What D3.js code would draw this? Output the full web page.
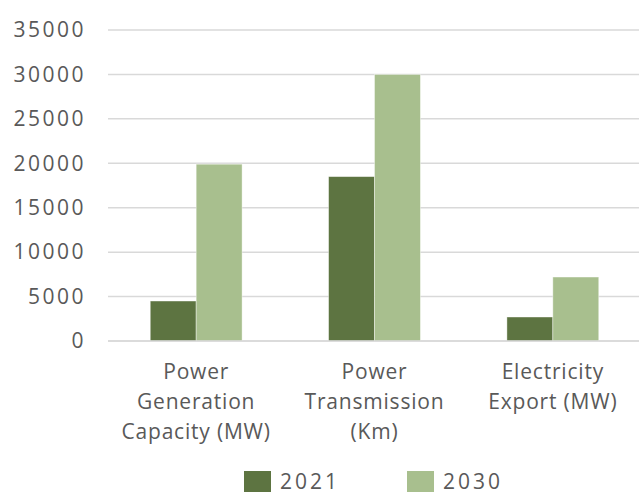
<!DOCTYPE html>
<html>
<head>
<meta charset="utf-8">
<script src="https://cdn.jsdelivr.net/npm/d3@7"></script>
<style>
  body { margin: 0; background: #fff; }
  text { font-family: "Open Sans", sans-serif; fill: #595959; }
</style>
</head>
<body>
<div class="chart"></div>
<script>
// chart data
const categories = [
  ["Power", "Generation", "Capacity (MW)"],
  ["Power", "Transmission", "(Km)"],
  ["Electricity", "Export (MW)"]
]
const seriesNames = ["2021", "2030"]
const values2021 = [4500, 18500, 2700]
const values2030 = [19900, 30000, 7200]
const yTicks = [0, 5000, 10000, 15000, 20000, 25000, 30000, 35000]
const colors = ["#5d7441", "#a8bf8e"]

const width = 639, height = 494
const plot = {left: 107, right: 642, top: 30, bottom: 341}

const svg = d3.select(".chart")
  .append("svg")
    .attr("width", width)
    .attr("height", height)

const x = d3.scaleBand()
  .domain(d3.range(categories.length))
  .range([plot.left, plot.right])
  .paddingInner(0.485)
  .paddingOuter(0.2425)

const xSub = d3.scaleBand()
  .domain(seriesNames)
  .range([0, x.bandwidth()])

const y = d3.scaleLinear()
  .domain([0, 35000])
  .range([plot.bottom, plot.top])

// gridlines
svg.append("g")
  .selectAll("line")
  .data(yTicks)
  .join("line")
    .attr("x1", plot.left + 1)
    .attr("x2", width)
    .attr("y1", d => y(d))
    .attr("y2", d => y(d))
    .attr("stroke", "#d9d9d9")
    .attr("stroke-width", 1.5)

// y tick labels
const yAxis = svg.append("g")
  .attr("transform", `translate(86,0)`)
  .call(d3.axisLeft(y).tickValues(yTicks).tickSize(0).tickPadding(0).tickFormat(d => d))
yAxis.select(".domain").remove()
yAxis.selectAll("text")
  .attr("font-size", 21)
  .attr("font-family", "Open Sans, sans-serif")
  .attr("letter-spacing", "2.5px")
  .attr("fill", "#595959")

// bars
const series = [values2021, values2030]
const groups = svg.append("g")
  .selectAll("g")
  .data(seriesNames)
  .join("g")
    .attr("fill", (d, i) => colors[i])

groups.selectAll("rect")
  .data((s, i) => series[i].map((v, j) => ({cat: j, v: v, s: s})))
  .join("rect")
    .attr("x", d => x(d.cat) + xSub(d.s))
    .attr("width", xSub.bandwidth())
    .attr("y", d => y(d.v))
    .attr("height", d => y(0) - y(d.v))
    .attr("stroke", "#ffffff")
    .attr("stroke-opacity", 0.5)
    .attr("stroke-width", 0.8)

// x axis baseline
svg.append("line")
  .attr("x1", plot.left + 1)
  .attr("x2", width)
  .attr("y1", y(0))
  .attr("y2", y(0))
  .attr("stroke", "#d9d9d9")
  .attr("stroke-width", 1.5)

// category labels
const labels = svg.append("g")
  .selectAll("text")
  .data(categories)
  .join("text")
    .attr("text-anchor", "middle")
    .attr("font-size", 21)
    .attr("letter-spacing", "0.8px")
    .attr("x", (d, i) => x(i) + x.bandwidth() / 2)
    .attr("y", 379)

labels.selectAll("tspan")
  .data(d => d)
  .join("tspan")
    .attr("x", function() { return this.parentNode.getAttribute("x") })
    .attr("dy", (d, i) => i == 0 ? 0 : 30)
    .text(d => d)

// legend
const legend = svg.append("g")
  .selectAll("g")
  .data(seriesNames)
  .join("g")
    .attr("transform", (d, i) => `translate(${244 + i * 163},471)`)

legend.append("rect")
  .attr("width", 27)
  .attr("height", 21)
  .attr("fill", (d, i) => colors[i])

legend.append("text")
  .attr("x", 36)
  .attr("y", 18)
  .attr("font-size", 21)
  .attr("letter-spacing", "3px")
  .text(d => d)
</script>
</body>
</html>
